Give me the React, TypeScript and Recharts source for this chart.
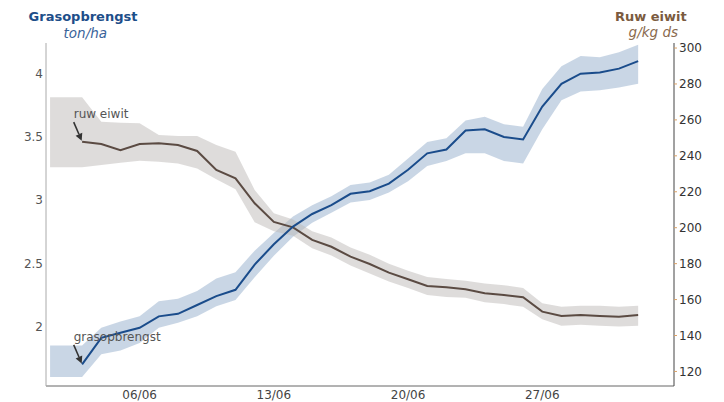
import React from "react";
import { ComposedChart, Area, Line, XAxis, YAxis, ReferenceDot } from "recharts";

// band start (flat extension) + daily points in June
const bandDays = [1.33, 3, 4, 5, 6, 7, 8, 9, 10, 11, 12, 13, 14, 15, 16, 17, 18, 19, 20, 21, 22, 23, 24, 25, 26, 27, 28, 29, 30, 31, 32];
const lineDays = [3, 4, 5, 6, 7, 8, 9, 10, 11, 12, 13, 14, 15, 16, 17, 18, 19, 20, 21, 22, 23, 24, 25, 26, 27, 28, 29, 30, 31, 32];

// Grasopbrengst (ton/ha)
const grasValues = [1.70, 1.91, 1.95, 1.99, 2.08, 2.10, 2.17, 2.24, 2.29, 2.49, 2.65, 2.79, 2.89, 2.96, 3.05, 3.07, 3.13, 3.24, 3.37, 3.40, 3.55, 3.56, 3.50, 3.48, 3.74, 3.92, 4.00, 4.01, 4.04, 4.10];
const grasLow = [1.60, 1.60, 1.78, 1.81, 1.87, 1.99, 2.03, 2.08, 2.16, 2.21, 2.39, 2.56, 2.71, 2.82, 2.90, 2.98, 3.00, 3.06, 3.15, 3.27, 3.31, 3.37, 3.37, 3.31, 3.29, 3.56, 3.79, 3.86, 3.87, 3.89, 3.92];
const grasHigh = [1.85, 1.85, 1.99, 2.04, 2.08, 2.20, 2.22, 2.28, 2.38, 2.43, 2.60, 2.74, 2.87, 2.96, 3.03, 3.12, 3.14, 3.20, 3.33, 3.46, 3.49, 3.63, 3.66, 3.60, 3.58, 3.88, 4.06, 4.14, 4.13, 4.17, 4.23];

// Ruw eiwit (g/kg ds)
const eiwitValues = [247.9, 246.6, 243.2, 246.6, 247.0, 246.0, 242.7, 232.1, 227.5, 213.6, 203.2, 200.2, 193.2, 189.4, 183.9, 179.8, 175.0, 171.3, 167.6, 166.8, 165.8, 163.5, 162.6, 161.3, 153.3, 150.9, 151.4, 150.9, 150.5, 151.4];
const eiwitLow = [233.6, 233.6, 234.9, 236.2, 237.3, 236.7, 235.8, 233.0, 226.9, 221.4, 203.0, 198.0, 195.5, 188.5, 184.5, 179.0, 174.5, 170.0, 166.5, 162.5, 161.5, 161.0, 158.5, 157.5, 156.0, 149.0, 145.5, 146.0, 145.5, 145.0, 145.5];
const eiwitHigh = [272.6, 272.6, 259.0, 258.4, 258.1, 251.6, 251.0, 251.0, 246.0, 242.3, 221.0, 208.0, 204.5, 198.0, 194.5, 189.0, 185.0, 180.0, 176.0, 172.5, 171.5, 170.5, 169.0, 168.0, 166.5, 158.0, 156.0, 156.5, 156.5, 156.0, 156.5];

const xTicks = [6, 13, 20, 27];
const leftTicks = [2, 2.5, 3, 3.5, 4];
const rightTicks = [120, 140, 160, 180, 200, 220, 240, 260, 280, 300];

const data = bandDays.map((day, i) => {
  const j = lineDays.indexOf(day);
  return {
    day,
    grasBand: [grasLow[i], grasHigh[i]],
    eiwitBand: [eiwitLow[i], eiwitHigh[i]],
    gras: j >= 0 ? grasValues[j] : null,
    eiwit: j >= 0 ? eiwitValues[j] : null,
  };
});

const FONT = "DejaVu Sans, Verdana, sans-serif";

const Annot = (props: any) => {
  const { cx, cy, text } = props;
  if (cx == null || cy == null) return null;
  const sx = cx - 8.4;
  const sy = cy - 19.5;
  const dx = cx - sx;
  const dy = cy - sy;
  const len = Math.sqrt(dx * dx + dy * dy);
  const ux = dx / len;
  const uy = dy / len;
  const tipX = cx - ux * 1;
  const tipY = cy - uy * 1;
  const bx = tipX - ux * 7;
  const by = tipY - uy * 7;
  const px = -uy;
  const py = ux;
  return (
    <g>
      <text x={sx} y={cy - 23.5} fill="#555" fontSize={12} fontFamily={FONT}>
        {text}
      </text>
      <line x1={sx} y1={sy} x2={bx} y2={by} stroke="#333" strokeWidth={1.6} />
      <path
        d={`M${tipX},${tipY} L${bx + px * 3.6},${by + py * 3.6} L${bx - px * 3.6},${by - py * 3.6} Z`}
        fill="#333"
      />
    </g>
  );
};

export default function App() {
  return (
    <div style={{ position: "absolute", left: 0, top: 0, width: 724, height: 402, background: "#fff" }}>
      <ComposedChart
        width={724}
        height={402}
        data={data}
        margin={{ top: 43, right: 0, bottom: 0, left: 0 }}
      >
        <XAxis
          dataKey="day"
          type="number"
          domain={[1.117, 33.87]}
          allowDataOverflow
          ticks={xTicks}
          tickFormatter={(d: number) => `${d < 10 ? "0" + d : d}/06`}
          tickLine={false}
          tickSize={0}
          tickMargin={4}
          height={16}
          axisLine={{ stroke: "#666" }}
          tick={{ fill: "#444", fontSize: 12, fontFamily: FONT }}
        />
        <YAxis
          yAxisId="left"
          orientation="left"
          type="number"
          domain={[1.529, 4.243]}
          allowDataOverflow
          ticks={leftTicks}
          width={46}
          tickLine={false}
          tickSize={0}
          tickMargin={3}
          axisLine={{ stroke: "#aaa" }}
          tick={{ fill: "#555", fontSize: 12, fontFamily: FONT }}
        />
        <YAxis
          yAxisId="right"
          orientation="right"
          type="number"
          domain={[111.9, 302.8]}
          allowDataOverflow
          ticks={rightTicks}
          width={50}
          tickSize={3}
          tickMargin={2}
          tickLine={{ stroke: "#d9a066" }}
          axisLine={{ stroke: "#444" }}
          tick={{ fill: "#333", fontSize: 12, fontFamily: FONT }}
        />
        <Area
          yAxisId="left"
          dataKey="grasBand"
          type="linear"
          stroke="none"
          fill="#93adcb"
          fillOpacity={0.5}
          isAnimationActive={false}
          activeDot={false}
        />
        <Area
          yAxisId="right"
          dataKey="eiwitBand"
          type="linear"
          stroke="none"
          fill="#bdb9b7"
          fillOpacity={0.5}
          isAnimationActive={false}
          activeDot={false}
        />
        <Line
          yAxisId="right"
          dataKey="eiwit"
          type="linear"
          stroke="#5b4b43"
          strokeWidth={2}
          dot={false}
          activeDot={false}
          isAnimationActive={false}
        />
        <Line
          yAxisId="left"
          dataKey="gras"
          type="linear"
          stroke="#1a4c8b"
          strokeWidth={2}
          dot={false}
          activeDot={false}
          isAnimationActive={false}
        />
        <ReferenceDot
          yAxisId="left"
          x={lineDays[0]}
          y={grasValues[0]}
          shape={(p: any) => <Annot {...p} text="grasopbrengst" />}
        />
        <ReferenceDot
          yAxisId="right"
          x={lineDays[0]}
          y={eiwitValues[0]}
          shape={(p: any) => <Annot {...p} text="ruw eiwit" />}
        />
      </ComposedChart>
      <svg
        width={724}
        height={60}
        style={{ position: "absolute", left: 0, top: 0, pointerEvents: "none" }}
      >
        <text x={83} y={21} textAnchor="middle" fontFamily={FONT} fontWeight="bold" fontSize={13} fill="#1d4e89">
          Grasopbrengst
        </text>
        <text x={85.3} y={38} textAnchor="middle" fontFamily={FONT} fontStyle="italic" fontSize={13.5} fill="#3a6399">
          ton/ha
        </text>
        <text x={650.8} y={21} textAnchor="middle" fontFamily={FONT} fontWeight="bold" fontSize={13} fill="#7b5b3f">
          Ruw eiwit
        </text>
        <text x={653.3} y={37} textAnchor="middle" fontFamily={FONT} fontStyle="italic" fontSize={13.5} fill="#8a6a4e">
          g/kg ds
        </text>
      </svg>
    </div>
  );
}
